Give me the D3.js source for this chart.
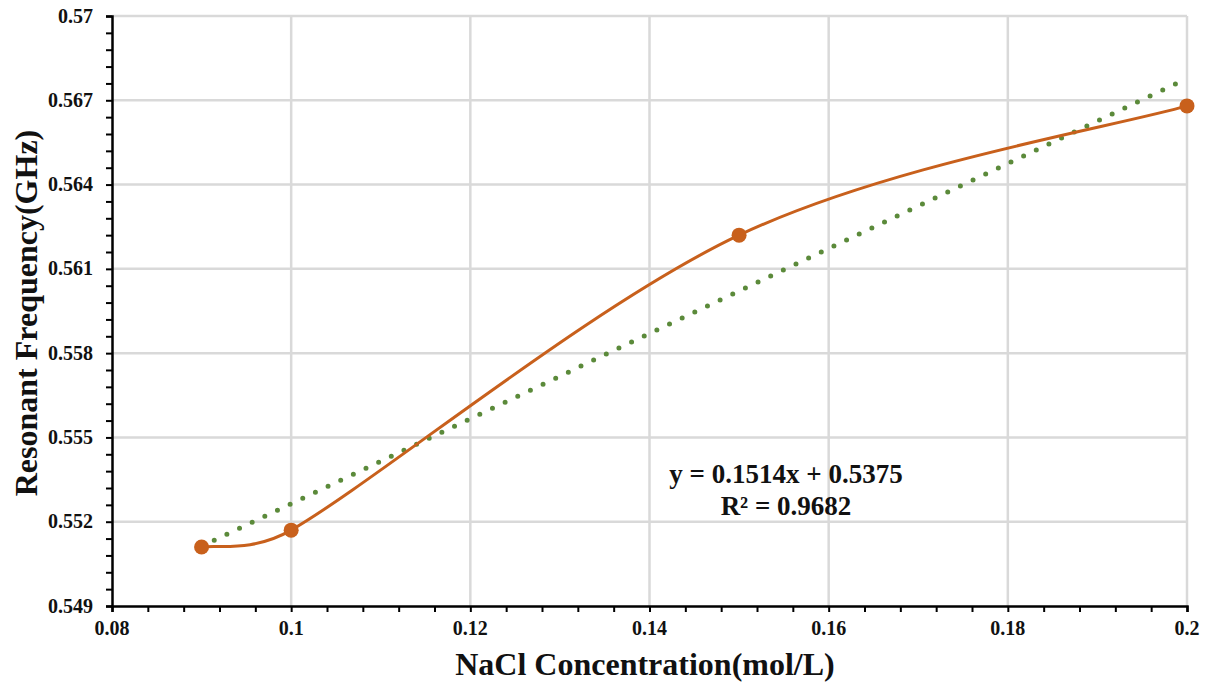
<!DOCTYPE html>
<html>
<head>
<meta charset="utf-8">
<script src="https://cdn.jsdelivr.net/npm/d3@7"></script>
<style>
  html, body { margin: 0; padding: 0; background: #fff; }
  svg { display: block; }
  text { font-family: "Liberation Serif", "Times New Roman", serif; font-weight: bold; fill: #111; }
</style>
</head>
<body>
<svg id="chart" width="1206" height="688"></svg>
<script>
// NaCl concentration (mol/L) and measured resonant frequency (GHz)
const concentrations = [0.09, 0.1, 0.15, 0.2];
const frequencies = [0.5511, 0.5517, 0.5622, 0.5668];

// Linear fit reported on the chart
const fitSlope = 0.1514;
const fitIntercept = 0.5375;
const fitLabels = ["y = 0.1514x + 0.5375", "R² = 0.9682"];

const xTicks = [0.08, 0.1, 0.12, 0.14, 0.16, 0.18, 0.2];
const yTicks = [0.549, 0.552, 0.555, 0.558, 0.561, 0.564, 0.567, 0.57];

// Spreadsheet-style smoothed line: cubic Bezier segments whose handles follow
// the neighbouring points (1/6 factor), capped at half the segment length.
function SmoothCurve(context) { this._context = context; }
SmoothCurve.prototype = {
  areaStart() { this._line = 0; },
  areaEnd() { this._line = NaN; },
  lineStart() { this._pts = []; },
  point(px, py) { this._pts.push([+px, +py]); },
  lineEnd() {
    const p = this._pts, ctx = this._context, n = p.length;
    if (!n) return;
    ctx.moveTo(p[0][0], p[0][1]);
    for (let i = 0; i < n - 1; i++) {
      const a = p[i - 1] || p[i], b = p[i], c = p[i + 1], d = p[i + 2] || p[i + 1];
      const seg = Math.hypot(c[0] - b[0], c[1] - b[1]);
      const handle = (u, v) => {
        let hx = (v[0] - u[0]) / 6, hy = (v[1] - u[1]) / 6;
        const len = Math.hypot(hx, hy);
        if (len > seg / 2) { hx *= seg / 2 / len; hy *= seg / 2 / len; }
        return [hx, hy];
      };
      const t1 = handle(a, c), t2 = handle(b, d);
      ctx.bezierCurveTo(b[0] + t1[0], b[1] + t1[1], c[0] - t2[0], c[1] - t2[1], c[0], c[1]);
    }
  }
};
const curveSmooth = context => new SmoothCurve(context);

const svg = d3.select("#chart");
const plotLeft = 112, plotRight = 1187, plotTop = 16, plotBottom = 606;

const x = d3.scaleLinear().domain([0.08, 0.2]).range([plotLeft, plotRight]);
const y = d3.scaleLinear().domain([0.549, 0.57]).range([plotBottom, plotTop]);

// Gridlines
const grid = svg.append("g").attr("stroke", "#d9d9d9").attr("stroke-width", 2.5);
grid.selectAll("line.v").data(xTicks.slice(1)).join("line")
  .attr("x1", d => x(d)).attr("x2", d => x(d))
  .attr("y1", plotTop).attr("y2", plotBottom);
grid.selectAll("line.h").data(yTicks.slice(1)).join("line")
  .attr("x1", plotLeft).attr("x2", plotRight)
  .attr("y1", d => y(d)).attr("y2", d => y(d));

// Minor ticks: five subdivisions between majors
const xMinor = d3.range(0, 31).map(i => 0.08 + i * 0.004);
const yMinor = d3.range(0, 36).map(i => 0.549 + i * 0.0006);

const xAxis = svg.append("g").attr("transform", `translate(0,${plotBottom})`)
  .call(d3.axisBottom(x).tickValues(xMinor).tickSize(6).tickFormat(""));
const yAxis = svg.append("g").attr("transform", `translate(${plotLeft},0)`)
  .call(d3.axisLeft(y).tickValues(yMinor).tickSize(6).tickFormat(""));

[xAxis, yAxis].forEach(g => {
  g.select(".domain").attr("stroke", "#000").attr("stroke-width", 2.5);
  g.selectAll(".tick line").attr("stroke", "#000").attr("stroke-width", 2);
});

// Major tick labels
svg.append("g").selectAll("text").data(xTicks).join("text")
  .attr("x", d => x(d)).attr("y", plotBottom + 29)
  .attr("text-anchor", "middle").attr("font-size", 20)
  .text(d => String(+d.toFixed(2)));
svg.append("g").selectAll("text").data(yTicks).join("text")
  .attr("x", 93).attr("y", d => y(d) + 6.5)
  .attr("text-anchor", "end").attr("font-size", 20)
  .text(d => String(+d.toFixed(3)));

// Axis titles
svg.append("text").attr("x", 645).attr("y", 675)
  .attr("text-anchor", "middle").attr("font-size", 32)
  .text("NaCl Concentration(mol/L)");
svg.append("text")
  .attr("transform", `translate(37,313) rotate(-90)`)
  .attr("text-anchor", "middle").attr("font-size", 32)
  .text("Resonant Frequency(GHz)");

// Linear trendline (dotted)
const xExt = d3.extent(concentrations);
svg.append("line")
  .attr("x1", x(xExt[0])).attr("y1", y(fitSlope * xExt[0] + fitIntercept))
  .attr("x2", x(xExt[1])).attr("y2", y(fitSlope * xExt[1] + fitIntercept))
  .attr("stroke", "#5b8a3a").attr("stroke-width", 5)
  .attr("stroke-linecap", "round").attr("stroke-dasharray", "0 14");

// Smoothed data series
const pts = concentrations.map((c, i) => [c, frequencies[i]]);
const line = d3.line().x(d => x(d[0])).y(d => y(d[1])).curve(curveSmooth);
svg.append("path").datum(pts).attr("d", line)
  .attr("fill", "none").attr("stroke", "#c8601c").attr("stroke-width", 3);
svg.append("g").selectAll("circle").data(pts).join("circle")
  .attr("cx", d => x(d[0])).attr("cy", d => y(d[1])).attr("r", 7.5)
  .attr("fill", "#c8601c");

// Fit equation
svg.append("g").selectAll("text").data(fitLabels).join("text")
  .attr("x", 786).attr("y", (d, i) => 483 + i * 32)
  .attr("text-anchor", "middle").attr("font-size", 27)
  .text(d => d);
</script>
</body>
</html>
